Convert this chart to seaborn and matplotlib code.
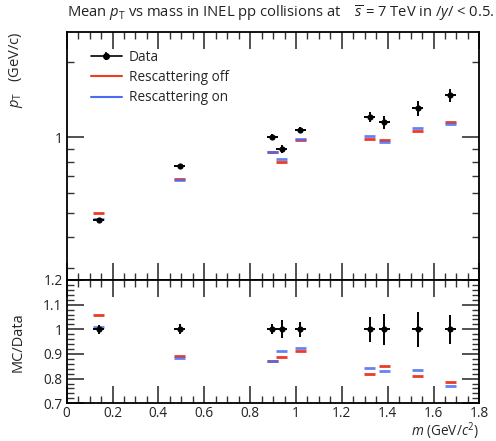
import numpy as np
import matplotlib
matplotlib.use("Agg")
import matplotlib.pyplot as plt
import seaborn as sns
from matplotlib.lines import Line2D
from matplotlib.legend_handler import HandlerTuple
from matplotlib.ticker import FixedLocator, MultipleLocator, NullFormatter, FuncFormatter

# Hadron species and masses (GeV/c^2)
particles = ["pi", "K", "K*0", "p", "phi", "Xi", "Sigma*", "Xi*", "Omega"]
mass = [0.1396, 0.4937, 0.8958, 0.9383, 1.0195, 1.3217, 1.3850, 1.5318, 1.6725]

# Measured mean pT (GeV/c) and relative uncertainty
data_mpt = [0.469, 0.765, 1.006, 0.897, 1.069, 1.205, 1.147, 1.305, 1.466]
data_relerr = [0.017, 0.020, 0.020, 0.037, 0.030, 0.050, 0.063, 0.070, 0.060]

# Model predictions (GeV/c)
resc_off = [0.497, 0.683, 0.875, 0.796, 0.975, 0.986, 0.977, 1.059, 1.150]
resc_on = [0.473, 0.677, 0.875, 0.818, 0.986, 1.014, 0.953, 1.091, 1.129]

RED = "#ee3b24"
BLUE = "#4a6cf0"
AXC = "#333333"
HALF_BIN = 0.024

sns.set_theme(style="ticks")
plt.rcParams["font.family"] = ["Open Sans", "DejaVu Sans"]
plt.rcParams["mathtext.fontset"] = "custom"
plt.rcParams["mathtext.rm"] = "Open Sans"
plt.rcParams["mathtext.it"] = "Open Sans:italic"
plt.rcParams["mathtext.bf"] = "Open Sans:bold"

m = np.array(mass)
d = np.array(data_mpt)
derr = d * np.array(data_relerr)
off = np.array(resc_off)
on = np.array(resc_on)

fig = plt.figure(figsize=(4.96, 4.41), dpi=100)
ax1 = fig.add_axes([0.1345, 0.3651, 0.832, 0.563])
ax2 = fig.add_axes([0.1345, 0.0855, 0.832, 0.2796], sharex=ax1)

# ---- upper panel: mean pT ----
ax1.errorbar(m, off, xerr=HALF_BIN, fmt="none", ecolor=RED, elinewidth=2.0, zorder=2)
ax1.errorbar(m, on, xerr=HALF_BIN, fmt="none", ecolor=BLUE, elinewidth=2.0, alpha=0.85, zorder=3)
ax1.errorbar(m, d, xerr=HALF_BIN, yerr=derr, fmt="none", ecolor="black", elinewidth=1.4, zorder=4)
sns.scatterplot(x=m, y=d, ax=ax1, color="black", s=20, edgecolor="black", linewidth=0, zorder=5)

ax1.set_yscale("log")
ax1.set_ylim(0.27, 2.63)
ax1.set_xlim(0, 1.8)
ax1.yaxis.set_major_locator(FixedLocator([1.0]))
ax1.yaxis.set_major_formatter(FuncFormatter(lambda v, p: f"{v:g}"))
ax1.yaxis.set_minor_locator(FixedLocator([0.3, 0.4, 0.5, 0.6, 0.7, 0.8, 0.9, 2.0]))
ax1.yaxis.set_minor_formatter(NullFormatter())
ax1.set_ylabel(r"$p_{\mathrm{T}}$   (GeV/c)", loc="top", fontsize=10.5)
ax1.yaxis.set_label_coords(-0.1, 1.0)
plt.setp(ax1.get_xticklabels(), visible=False)

handles = [
    (Line2D([], [], color="black", lw=1.2, marker="o", markersize=4),
     Line2D([], [], color="black", lw=0, marker="|", markersize=6, markeredgewidth=1.2)),
    Line2D([], [], color=RED, lw=1.5),
    Line2D([], [], color=BLUE, lw=1.5),
]
ax1.legend(handles, ["Data", "Rescattering off", "Rescattering on"],
           handler_map={tuple: HandlerTuple(ndivide=1, pad=0)},
           loc="upper left", bbox_to_anchor=(0.045, 0.95), frameon=False,
           fontsize=9.8, handlelength=2.3, handletextpad=0.5, labelspacing=0.4,
           borderaxespad=0)

# ---- lower panel: model / data ----
ax2.errorbar(m, off / d, xerr=HALF_BIN, fmt="none", ecolor=RED, elinewidth=2.0, zorder=2)
ax2.errorbar(m, on / d, xerr=HALF_BIN, fmt="none", ecolor=BLUE, elinewidth=2.0, alpha=0.85, zorder=3)
ax2.errorbar(m, d / d, xerr=HALF_BIN, yerr=np.array(data_relerr), fmt="none",
             ecolor="black", elinewidth=1.4, zorder=4)
sns.scatterplot(x=m, y=d / d, ax=ax2, color="black", s=20, edgecolor="black", linewidth=0, zorder=5)

ax2.set_ylim(0.7, 1.2)
ax2.yaxis.set_major_locator(MultipleLocator(0.1))
ax2.yaxis.set_minor_locator(MultipleLocator(0.02))
ax2.yaxis.set_major_formatter(FuncFormatter(lambda v, p: f"{round(v, 2):g}"))
ax2.xaxis.set_major_locator(MultipleLocator(0.2))
ax2.xaxis.set_minor_locator(MultipleLocator(0.05))
ax2.xaxis.set_major_formatter(FuncFormatter(lambda v, p: f"{round(v, 2):g}"))
ax2.set_ylabel("MC/Data", fontsize=10.5)
ax2.yaxis.set_label_coords(-0.1, 0.5)
ax2.set_xlabel(r"$m$ (GeV/$c^{2}$)", loc="right", fontsize=9.8)
ax2.xaxis.set_label_coords(1.0, -0.142)

for ax in (ax1, ax2):
    ax.tick_params(which="both", direction="in", top=True, right=True,
                   color=AXC, labelsize=9.8, labelcolor="#222222")
    ax.tick_params(which="major", length=12, width=1.2, pad=3)
    ax.tick_params(which="minor", length=5, width=1.0)
    for s in ax.spines.values():
        s.set_color("black")
        s.set_linewidth(1.3)
ax2.tick_params(axis="x", which="major", pad=2)

fig.text(0.1345, 1 - 17 / 441,
         r"Mean $p_{\mathrm{T}}$ vs mass in INEL pp collisions at    $\overline{s}$ = 7 TeV in $/y/$ < 0.5.",
         fontsize=10.6, va="baseline", ha="left", color="#222222")

fig.savefig("out.png", dpi=100)
